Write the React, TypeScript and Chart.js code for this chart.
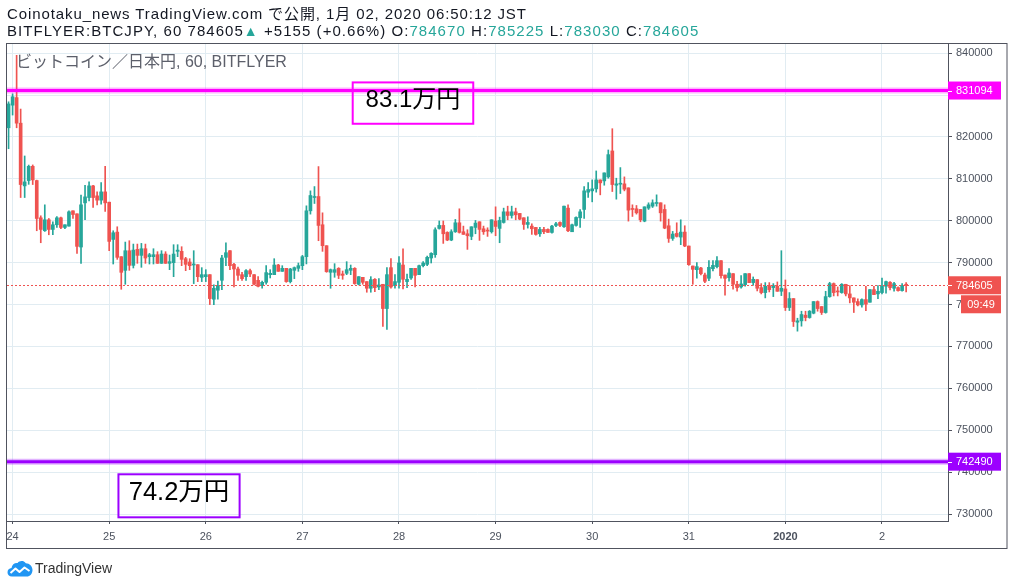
import { useEffect, useRef } from 'react';
import { Chart, registerables } from 'chart.js';

Chart.register(...registerables);

// ---- data ----
// hourly candles, first candle = Dec 23 23:00 JST (hour -1 relative to Dec 24 00:00)
const startHour = -1;
const dayTickHours = [0, 24, 48, 72, 96, 120, 144, 168, 192, 216];
const dayTickLabels = ['24', '25', '26', '27', '28', '29', '30', '31', '2020', '2'];
const boldTickLabel = '2020';
const priceTicks = [730000, 740000, 750000, 760000, 770000, 780000, 790000, 800000, 810000, 820000, 830000, 840000];

const opens = [
  822200, 827600, 829400, 823300, 808330, 809600, 813000, 809600,
  800710, 797620, 800240, 797930, 799050, 800710, 798410, 798730,
  802380, 801660, 793730, 804280, 805550, 808330, 805950, 804920,
  806900, 804440, 795550, 797300, 791430, 788170, 792850, 789360,
  793170, 791740, 793330, 791430, 791430, 791900, 789840, 792060,
  789840, 790000, 792700, 792700, 790950, 790160, 789440, 789520,
  786500, 786660, 787140, 781270, 783420, 785790, 791270, 792860,
  789600, 788490, 787140, 786660, 788090, 787140, 785790, 784520,
  785310, 787140, 787140, 789440, 787930, 788650, 785480, 788170,
  788650, 789280, 791430, 802380, 805560, 805790, 799050, 794050,
  787700, 787700, 788650, 787300, 787460, 788170, 788650, 784840,
  786500, 785480, 783890, 786030, 784200, 784840, 779050, 788810,
  784520, 785310, 789440, 785480, 786350, 788650, 787140, 789280,
  789600, 791110, 791900, 798170, 798890, 797220, 795400, 797380,
  799520, 797380, 796900, 796270, 798410, 799760, 798090, 797700,
  797380, 799920, 798180, 799600, 802140, 801270, 802140, 801750,
  800720, 799130, 798730, 798410, 796900, 797940, 797940, 797220,
  798890, 799600, 798570, 803020, 797380, 798890, 800710, 802700,
  806830, 807140, 807620, 809760, 809520, 810480, 816670, 808490,
  808730, 808810, 807860, 802860, 802860, 802700, 799920, 803020,
  803490, 804130, 804290, 802700, 798810, 795790, 796980, 796110,
  797300, 793970, 789200, 788330, 788730, 787060, 786270, 788570,
  789050, 790480, 787060, 786430, 787380, 784840, 784200, 784760,
  787380, 785240, 785950, 784050, 782860, 784520, 784050, 784370,
  783170, 783730, 779290, 781430, 775790, 776110, 777460, 776900,
  777940, 780710, 779520, 778100, 781900, 785000, 783170, 782860,
  784840, 782540, 781590, 780710, 779920, 781190, 780550, 783570,
  782540, 782860, 784370, 785320, 783890, 784050, 783330, 784670,
];

const highs = [
  828400, 830300, 839500, 826670, 815470, 813300, 813330, 809700,
  801190, 803810, 800550, 799760, 801030, 800870, 799050, 802380,
  802380, 801660, 806110, 808490, 809280, 808490, 806900, 809120,
  813010, 804440, 797620, 798570, 791430, 794920, 795240, 794440,
  794440, 794600, 794440, 792220, 793330, 792620, 792860, 792620,
  791820, 794290, 794290, 793810, 791270, 790950, 792860, 789520,
  788810, 788330, 787140, 784680, 785630, 791740, 794760, 792860,
  789840, 788970, 787700, 788330, 788490, 787140, 786660, 785630,
  789280, 788330, 790950, 789600, 789280, 788650, 788650, 788970,
  789920, 791740, 803570, 807140, 808170, 812940, 801900, 794050,
  788490, 789760, 788810, 788010, 790240, 789440, 788810, 786660,
  786500, 785480, 786660, 786190, 786190, 784840, 788810, 790950,
  787140, 791430, 793330, 787300, 788650, 788650, 789440, 790240,
  791590, 792380, 798330, 799960, 799960, 797380, 797860, 800320,
  802860, 798730, 797860, 798570, 800080, 799760, 798730, 798330,
  800240, 803330, 800870, 803020, 803490, 803490, 803020, 801750,
  800720, 800950, 799280, 798410, 798410, 798410, 798090, 798890,
  799600, 799760, 803490, 803810, 799210, 800950, 802700, 808170,
  809130, 809760, 811900, 809760, 811430, 816900, 821980, 810160,
  812700, 810480, 807860, 803810, 803650, 802700, 803330, 804290,
  805000, 806190, 804290, 803810, 800400, 797460, 799520, 800240,
  798810, 793970, 789200, 790000, 788890, 787540, 790480, 790480,
  791430, 790480, 787060, 788570, 787380, 785560, 786900, 787380,
  787380, 786590, 785950, 785000, 785240, 785240, 785000, 785400,
  792860, 785870, 782860, 781430, 776740, 778410, 778410, 778570,
  780710, 780870, 779520, 783170, 785320, 785160, 784210, 785000,
  784840, 784520, 781590, 781350, 781350, 784370, 783570, 784370,
  784520, 786350, 785630, 785480, 785320, 784210, 785000, 785225,
];

const lows = [
  817200, 825240, 822200, 805550, 805550, 808700, 808650, 797620,
  794760, 797460, 796660, 796660, 798400, 798090, 798090, 798730,
  800550, 792220, 789840, 800240, 804760, 803170, 803810, 803970,
  802220, 792860, 789680, 790790, 783650, 784840, 788170, 788730,
  789840, 788890, 789840, 789680, 789680, 789840, 789840, 789840,
  788330, 786660, 791430, 789280, 788090, 788330, 785000, 785480,
  785480, 785480, 780000, 780000, 781270, 783570, 789280, 788330,
  784200, 785790, 785790, 785790, 786660, 784680, 784200, 783890,
  784840, 786350, 787140, 787930, 787930, 785310, 785160, 786190,
  787930, 788330, 789700, 801590, 804130, 795240, 792700, 787700,
  783890, 786510, 786190, 786030, 787140, 787140, 784840, 784680,
  784840, 782940, 782940, 783100, 783570, 774760, 774050, 783890,
  783890, 783890, 783730, 784050, 786030, 784200, 787140, 788970,
  789280, 789920, 791270, 798010, 794600, 795240, 795240, 797220,
  797060, 796750, 793170, 795480, 796900, 795320, 796750, 796270,
  797060, 796430, 794760, 799440, 800240, 800640, 800240, 800240,
  797940, 798250, 796750, 796590, 796270, 796900, 797220, 797060,
  798570, 798570, 798410, 797380, 797380, 798730, 798410, 800560,
  805550, 804520, 806830, 806190, 808490, 810160, 806980, 805160,
  806510, 807140, 799920, 801030, 801590, 799760, 799760, 802700,
  803170, 803490, 799920, 798100, 794840, 795320, 796110, 794290,
  793810, 789360, 784840, 786270, 787060, 785240, 785710, 788010,
  788730, 786270, 782220, 785560, 783650, 783170, 783890, 784370,
  785240, 784600, 783250, 782540, 781590, 783020, 781900, 783170,
  782140, 778570, 778570, 774760, 773650, 774840, 776110, 776740,
  777780, 778410, 777620, 777940, 781750, 782060, 782060, 782700,
  782060, 780400, 778100, 779680, 779370, 778570, 780550, 782380,
  781430, 782540, 782700, 783490, 783170, 783170, 783170, 783030,
];

const closes = [
  827900, 829600, 823300, 808650, 809280, 813000, 809760, 800550,
  797930, 800240, 797930, 799050, 800710, 798410, 799050, 802140,
  801500, 793890, 803810, 805710, 808330, 805550, 804920, 806900,
  804280, 795080, 797140, 791270, 787700, 792850, 789360, 793010,
  791740, 793330, 791110, 791900, 791900, 789840, 792060, 789840,
  790240, 792060, 793000, 790790, 789600, 789280, 789680, 786660,
  787140, 787140, 781430, 783890, 784520, 791110, 792380, 789280,
  788490, 786980, 786190, 788090, 787300, 784840, 784360, 785310,
  787620, 787460, 789440, 787930, 788650, 785480, 788490, 788810,
  789280, 791430, 802380, 806030, 805790, 798890, 794050, 787860,
  788330, 788330, 786980, 786980, 788330, 788650, 785000, 786660,
  785310, 783890, 785950, 784040, 784680, 779050, 787140, 784200,
  785480, 789920, 786030, 786030, 788650, 786980, 789280, 789920,
  791270, 792220, 797860, 798890, 796900, 795400, 797380, 799520,
  797220, 796750, 796430, 798570, 799440, 797940, 797380, 797540,
  800240, 798650, 800080, 802140, 801270, 802140, 801430, 800400,
  799130, 799600, 798090, 796750, 797940, 797380, 797220, 798730,
  799280, 798890, 803490, 797620, 799050, 800790, 802140, 807140,
  807460, 807620, 809760, 809050, 811430, 815790, 808650, 808810,
  808970, 807540, 802540, 802700, 801900, 800240, 803330, 803810,
  804290, 804290, 801900, 798250, 795790, 796830, 796270, 797300,
  793970, 789520, 788410, 789050, 787380, 785560, 788890, 789360,
  790480, 786900, 786270, 787540, 784840, 784050, 784920, 787380,
  785240, 786030, 783890, 782860, 784370, 783570, 784520, 783170,
  783890, 779290, 781430, 775950, 776110, 777620, 776900, 778410,
  780710, 779050, 778100, 781900, 785000, 782860, 783010, 784840,
  782540, 781590, 780550, 779920, 781190, 780080, 783570, 782380,
  783170, 784370, 785480, 784050, 785000, 783330, 784520, 784605,
];

const changeText = '+5155 (+0.66%)';
const countdownText = '09:49';

// horizontal drawing levels
const levelPrices = [831094, 742490];
const levelColors = ['#ff00ff', '#9c00ff'];

// text boxes attached to the levels (time in hours, price range)
const noteTexts = ['83.1万円', '74.2万円'];
const noteHours = [[84.5, 114.45], [26.3, 56.4]];
const notePrices = [[833030, 823160], [739480, 729210]];
const noteFontSizes = [24, 25.5];

// ---- view settings ----
const yMin = 728330;
const yMax = 842440;
const xMin = -1.39;
const xMax = 232.4;
const UP = '#26a69a';
const DOWN = '#ef5350';
const GRID = '#e1ecf2';
const FRAME = '#50535e';
const AXIS_TEXT = '#4c525e';
const FONT = "'Liberation Sans', Arial, 'Noto Sans CJK JP', sans-serif";

Chart.defaults.font.family = FONT;

const overlayPlugin = {
  id: 'tvOverlay',
  afterDraw(chart: any) {
    const { ctx, chartArea: a, scales } = chart;
    const x = scales.x;
    const y = scales.y;
    ctx.save();

    // level lines
    levelPrices.forEach((p, i) => {
      const ly = y.getPixelForValue(p);
      ctx.strokeStyle = levelColors[i];
      ctx.globalAlpha = 0.3;
      ctx.lineWidth = 6;
      ctx.beginPath();
      ctx.moveTo(a.left, ly);
      ctx.lineTo(a.right, ly);
      ctx.stroke();
      ctx.globalAlpha = 1;
      ctx.lineWidth = 3;
      ctx.beginPath();
      ctx.moveTo(a.left, ly);
      ctx.lineTo(a.right, ly);
      ctx.stroke();
    });

    // note boxes
    noteTexts.forEach((t, i) => {
      const x0 = x.getPixelForValue(noteHours[i][0]);
      const x1 = x.getPixelForValue(noteHours[i][1]);
      const y0 = y.getPixelForValue(notePrices[i][0]);
      const y1 = y.getPixelForValue(notePrices[i][1]);
      ctx.strokeStyle = levelColors[i];
      ctx.lineWidth = 2;
      ctx.strokeRect(x0, y0, x1 - x0, y1 - y0);
      ctx.fillStyle = '#000';
      ctx.font = `${noteFontSizes[i]}px ${FONT}`;
      ctx.textAlign = 'center';
      ctx.textBaseline = 'alphabetic';
      ctx.fillText(t, (x0 + x1) / 2, y0 + (y1 - y0) * 0.6);
    });

    // last price dotted line
    const last = closes[closes.length - 1];
    const py = Math.round(y.getPixelForValue(last)) + 0.5;
    ctx.strokeStyle = DOWN;
    ctx.lineWidth = 1;
    ctx.setLineDash([2, 2]);
    ctx.beginPath();
    ctx.moveTo(a.left, py);
    ctx.lineTo(a.right, py);
    ctx.stroke();
    ctx.setLineDash([]);

    // axis price labels
    const boxW = 53;
    const boxH = 18;
    const drawAxisLabel = (price: number, color: string) => {
      const cy = y.getPixelForValue(price);
      ctx.fillStyle = color;
      ctx.fillRect(a.right, cy - boxH / 2, boxW, boxH);
      ctx.strokeStyle = '#fff';
      ctx.lineWidth = 1;
      ctx.beginPath();
      ctx.moveTo(a.right, Math.round(cy) + 0.5);
      ctx.lineTo(a.right + 4, Math.round(cy) + 0.5);
      ctx.stroke();
      ctx.fillStyle = '#fff';
      ctx.font = `11px ${FONT}`;
      ctx.textAlign = 'left';
      ctx.textBaseline = 'middle';
      ctx.fillText(String(price), a.right + 8, cy + 0.5);
      return cy;
    };
    levelPrices.forEach((p, i) => drawAxisLabel(p, levelColors[i]));
    const lastColor = closes[closes.length - 1] >= opens[opens.length - 1] ? UP : DOWN;
    const cy = drawAxisLabel(last, lastColor);
    // countdown box
    ctx.fillStyle = lastColor;
    ctx.fillRect(a.right + 13, cy + boxH / 2 + 1, 40, boxH);
    ctx.fillStyle = '#fff';
    ctx.textAlign = 'center';
    ctx.fillText(countdownText, a.right + 33, cy + boxH + 1.5);

    // frame
    ctx.strokeStyle = FRAME;
    ctx.lineWidth = 1;
    ctx.strokeRect(a.left - 0.5, a.top + 0.5, chart.width - 7 - a.left + 0.5, x.bottom - a.top - 1);
    ctx.restore();
  },
};

export default function App() {
  const ref = useRef<HTMLCanvasElement>(null);

  useEffect(() => {
    const colors = opens.map((o, i) => (closes[i] >= o ? UP : DOWN));
    const bodies = opens.map((o, i) => ({ x: startHour + i, y: [Math.min(o, closes[i]), Math.max(o, closes[i])] }));
    const wicks = lows.map((l, i) => ({ x: startHour + i, y: [l, highs[i]] }));

    const chart = new Chart(ref.current as HTMLCanvasElement, {
      type: 'bar',
      data: {
        datasets: [
          {
            label: 'body',
            data: bodies as any,
            backgroundColor: colors,
            barThickness: 3,
            minBarLength: 1,
            grouped: false,
            order: 1,
          },
          {
            label: 'wick',
            data: wicks as any,
            backgroundColor: colors,
            barThickness: 1,
            grouped: false,
            order: 2,
          },
        ],
      },
      plugins: [overlayPlugin],
      options: {
        animation: false,
        responsive: false,
        events: [],
        layout: { padding: { left: 7, top: 43, right: 7, bottom: 37 } },
        plugins: { legend: { display: false }, tooltip: { enabled: false } },
        scales: {
          x: {
            type: 'linear',
            offset: false,
            min: xMin,
            max: xMax,
            afterBuildTicks: (axis: any) => {
              axis.ticks = dayTickHours.map((v) => ({ value: v }));
            },
            afterFit: (axis: any) => {
              axis.height = 28;
            },
            grid: { offset: false, color: GRID, tickColor: FRAME, tickLength: 3, lineWidth: 1 },
            border: { display: true, color: FRAME, width: 1 },
            ticks: {
              autoSkip: false,
              maxRotation: 0,
              padding: 6,
              color: AXIS_TEXT,
              font: (ctx: any) => ({
                size: 11,
                weight: ctx.tick && dayTickLabels[dayTickHours.indexOf(ctx.tick.value)] === boldTickLabel ? 'bold' : 'normal',
              }),
              callback: (v: any) => {
                const k = dayTickHours.indexOf(Number(v));
                return k >= 0 ? dayTickLabels[k] : '';
              },
            },
          },
          y: {
            type: 'linear',
            position: 'right',
            min: yMin,
            max: yMax,
            afterBuildTicks: (axis: any) => {
              axis.ticks = priceTicks.map((v) => ({ value: v }));
            },
            afterFit: (axis: any) => {
              axis.width = 59;
            },
            grid: { color: GRID, tickColor: FRAME, tickLength: 4, lineWidth: 1 },
            border: { display: true, color: FRAME, width: 1 },
            ticks: {
              padding: 4,
              color: AXIS_TEXT,
              font: { size: 11 },
              callback: (v: any) => String(v),
            },
          },
        },
      },
    } as any);
    return () => chart.destroy();
  }, []);

  const n = closes.length - 1;
  const teal = { color: UP };
  return (
    <div
      style={{
        position: 'fixed',
        left: 0,
        top: 0,
        width: 1014,
        height: 586,
        background: '#fff',
        overflow: 'hidden',
        fontFamily: FONT,
      }}
    >
      <canvas ref={ref} width={1014} height={586} style={{ position: 'absolute', left: 0, top: 0, width: 1014, height: 586 }} />
      <div
        style={{
          position: 'absolute',
          left: 7,
          top: 5,
          fontSize: 15,
          lineHeight: '17px',
          color: '#131722',
          whiteSpace: 'nowrap',
        }}
      >
        <div style={{ letterSpacing: '0.9px' }}>Coinotaku_news TradingView.com で公開, 1月 02, 2020 06:50:12 JST</div>
        <div style={{ letterSpacing: '1.05px' }}>
          BITFLYER:BTCJPY, 60 {closes[n]}
          <span style={{ ...teal, fontSize: 14 }}>▲</span> {changeText} O:<span style={teal}>{opens[n]}</span> H:
          <span style={teal}>{highs[n]}</span> L:<span style={teal}>{lows[n]}</span> C:<span style={teal}>{closes[n]}</span>
        </div>
      </div>
      <div style={{ position: 'absolute', left: 16, top: 52, fontSize: 16, lineHeight: '20px', color: '#5d606b', whiteSpace: 'nowrap' }}>
        ビットコイン／日本円, 60, BITFLYER
      </div>
      <div style={{ position: 'absolute', left: 7, top: 559, display: 'flex', alignItems: 'center', height: 18 }}>
        <svg width="26" height="17" viewBox="0 0 26 17">
          <path
            d="M5 16.5 C2 16.5 0.5 14.5 0.5 12.2 C0.5 9.8 2.3 8.2 4.5 8 C5 4.6 7.6 2.6 10.6 3 C12.4 0.6 16.6 0.2 18.8 3.2 C22.6 3.2 25.5 6.2 25.5 10 C25.5 13.8 23 16.5 19.8 16.5 Z"
            fill="#2196f3"
          />
          <polyline points="3.5,13 8.5,8.5 12.5,12 17.5,7.5 22.5,11" stroke="#fff" strokeWidth="2" fill="none" strokeLinejoin="round" />
        </svg>
        <span style={{ fontSize: 14, color: '#333', marginLeft: 2 }}>TradingView</span>
      </div>
    </div>
  );
}
